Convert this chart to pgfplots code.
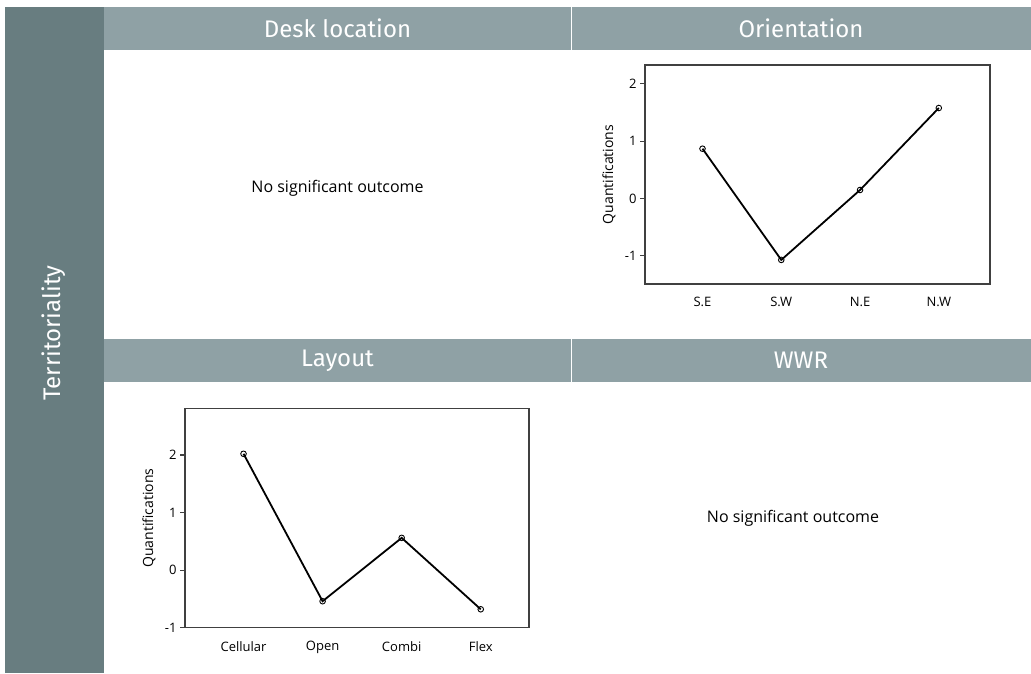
\documentclass[border=0pt]{standalone}
\usepackage{fontspec}
\usepackage{pgfplots}
\pgfplotsset{compat=1.18}
\setmainfont{Fira Sans}
\newfontfamily\chartfont{Open Sans}

\definecolor{stripgray}{HTML}{687D80}
\definecolor{bandgray}{HTML}{8FA1A5}
\definecolor{framegray}{HTML}{404040}

\pgfplotsset{
  quantplot/.style={
    scale only axis,
    anchor=north west,
    axis line style={framegray, line width=1.1pt},
    tick style={framegray, line width=1.1pt},
    major x tick style={draw=none},
    ytick pos=left,
    xtick pos=bottom,
    tick align=outside,
    major tick length=5pt,
    xtick={1,2,3,4},
    ytick={-1,0,1,2},
    yticklabels={-1,0,1,2},
    ticklabel style={font=\chartfont\fontsize{13}{15}\selectfont},
    xticklabel style={yshift=-5pt},
    every axis y label/.style={at={(axis description cs:0,0.5)}, xshift=-36pt,
      rotate=90, anchor=center, font=\chartfont\fontsize{14}{16}\selectfont},
    ylabel=Quantifications,
  },
  quantline/.style={black, line width=1.8pt, mark=o, mark size=2.8pt,
    mark options={fill=white, line width=0.9pt}},
}

\begin{document}
\begin{tikzpicture}
\useasboundingbox (0,0) rectangle (1031pt,-673pt);
\fill[white] (0,0) rectangle (1031pt,-673pt);

\begin{scope}[x=1pt, y=-1pt]
  % side strip and header bands
  \fill[stripgray] (5,7) rectangle (104,673);
  \fill[bandgray] (104,7) rectangle (1031,50);
  \fill[bandgray] (104,339) rectangle (1031,382);
  \draw[white, line width=1pt] (571,7) -- (571,50);
  \draw[white, line width=1pt] (571,339) -- (571,382);

  \node[white, font=\fontsize{24}{28}\selectfont, rotate=90] at (54,333) {Territoriality};
  \node[white, font=\fontsize{24}{28}\selectfont] at (337.5,28.5) {Desk location};
  \node[white, font=\fontsize{24}{28}\selectfont] at (801,28.5) {Orientation};
  \node[white, font=\fontsize{24}{28}\selectfont] at (337.5,360.5) {Layout};
  \node[white, font=\fontsize{24}{28}\selectfont] at (801,360.5) {WWR};

  \node[font=\chartfont\fontsize{16}{19}\selectfont] at (337.5,188) {No significant outcome};
  \node[font=\chartfont\fontsize{16}{19}\selectfont] at (793,518) {No significant outcome};
\end{scope}

% Orientation
\begin{axis}[quantplot,
  at={(645pt,-65pt)}, width=345pt, height=219pt,
  xmin=0.27, xmax=4.65, ymin=-1.49, ymax=2.33,
  xticklabels={S.E,S.W,N.E,N.W}]
\addplot[quantline] coordinates {(1,0.87) (2,-1.07) (3,0.15) (4,1.58)};
\end{axis}

% Layout
\begin{axis}[quantplot,
  at={(185pt,-408.3pt)}, width=344pt, height=219.4pt,
  xmin=0.26, xmax=4.61, ymin=-1, ymax=2.81,
  xticklabels={Cellular,Open,Combi,Flex}]
\addplot[quantline] coordinates {(1,2.02) (2,-0.54) (3,0.56) (4,-0.68)};
\end{axis}
\end{tikzpicture}
\end{document}
